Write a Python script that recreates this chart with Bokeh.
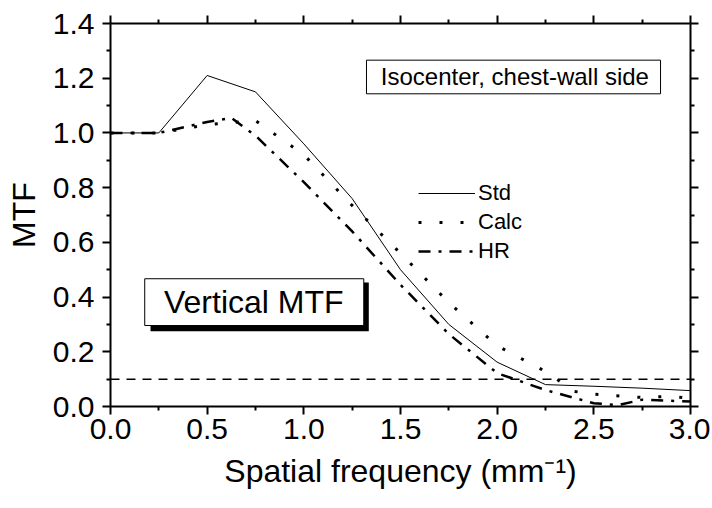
from bokeh.plotting import figure
from bokeh.models import (LinearAxis, Range1d, FixedTicker, PrintfTickFormatter,
                          Span, Label, BoxAnnotation, Legend, LegendItem)
from bokeh.embed import file_html
from bokeh.resources import INLINE

# ---- data ----
freq_std = [0.0, 0.25, 0.5, 0.75, 1.0, 1.25, 1.5, 1.75, 2.0, 2.25, 2.5, 2.75, 3.0]
mtf_std = [1.0, 1.0, 1.21, 1.15, 0.96, 0.76, 0.50, 0.30, 0.162, 0.08, 0.074, 0.067, 0.058]

freq_calc = [0.0, 0.25, 0.5, 0.75, 1.0, 1.25, 1.5, 1.75, 2.0, 2.25, 2.4, 2.5, 2.75, 2.9, 3.0]
mtf_calc = [1.0, 1.0, 1.03, 1.045, 0.92, 0.735, 0.56, 0.38, 0.222, 0.128, 0.055, 0.045, 0.033, 0.037, 0.03]

freq_hr = [0.0, 0.25, 0.5, 0.625, 0.75, 1.0, 1.25, 1.5, 1.75, 2.0, 2.25, 2.5, 2.625, 2.75, 3.0]
mtf_hr = [1.0, 1.0, 1.04, 1.055, 0.99, 0.82, 0.64, 0.445, 0.265, 0.122, 0.06, 0.012, 0.005, 0.025, 0.018]

x_major = [0.0, 0.5, 1.0, 1.5, 2.0, 2.5, 3.0]
x_minor = [0.25, 0.75, 1.25, 1.75, 2.25, 2.75]
y_major = [0.0, 0.2, 0.4, 0.6, 0.8, 1.0, 1.2, 1.4]
y_minor = [0.1, 0.3, 0.5, 0.7, 0.9, 1.1, 1.3]

series_labels = ["Std", "Calc", "HR"]
threshold = 0.1
x_title = "Spatial frequency (mm\u207b\u00b9)"
y_title = "MTF"
note_text = "Isocenter, chest-wall side"
title_text = "Vertical MTF"

FONT = "Liberation Sans"

p = figure(width=710, height=506, x_range=Range1d(0, 3), y_range=Range1d(0, 1.4),
           output_backend="svg", toolbar_location=None,
           x_axis_location=None, y_axis_location=None,
           min_border_left=110, min_border_right=20, min_border_top=23, min_border_bottom=100)
p.grid.visible = False
p.outline_line_color = None
p.background_fill_color = "white"
p.border_fill_color = "white"


def style_axis(ax, show_labels):
    ax.axis_line_width = 2
    ax.axis_line_color = "black"
    ax.major_tick_line_width = 2
    ax.minor_tick_line_width = 2
    ax.major_tick_in = 0
    ax.major_tick_out = 8
    ax.minor_tick_in = 0
    ax.minor_tick_out = 4
    ax.major_label_text_font = FONT
    ax.axis_label_text_font = FONT
    ax.axis_label_text_font_style = "normal"
    ax.axis_label_text_color = "black"
    if show_labels:
        ax.major_label_text_color = "black"
        ax.major_label_text_font_size = "30px"
        ax.axis_label_text_font_size = "32px"
    else:
        ax.major_label_text_color = None
        ax.major_label_text_font_size = "1px"
        ax.major_label_standoff = 0


xb = LinearAxis(ticker=FixedTicker(ticks=x_major, minor_ticks=x_minor),
                formatter=PrintfTickFormatter(format="%.1f"), axis_label=x_title)
style_axis(xb, True)
xb.major_label_standoff = 4
xb.axis_label_standoff = 11
p.add_layout(xb, "below")

xt = LinearAxis(ticker=FixedTicker(ticks=x_major, minor_ticks=x_minor))
style_axis(xt, False)
p.add_layout(xt, "above")

yl = LinearAxis(ticker=FixedTicker(ticks=y_major, minor_ticks=y_minor),
                formatter=PrintfTickFormatter(format="%.1f"), axis_label=y_title)
style_axis(yl, True)
yl.major_label_standoff = 8
yl.axis_label_standoff = 8
p.add_layout(yl, "left")

yr = LinearAxis(ticker=FixedTicker(ticks=y_major, minor_ticks=y_minor))
style_axis(yr, False)
p.add_layout(yr, "right")

# threshold line
p.add_layout(Span(location=threshold, dimension="width", line_color="black",
                  line_width=1.5, line_dash="9 7"))

r_std = p.line(freq_std, mtf_std, line_color="black", line_width=1)
r_calc = p.line(freq_calc, mtf_calc, line_color="black", line_width=3, line_dash="3 18")
r_hr = p.line(freq_hr, mtf_hr, line_color="black", line_width=2.5, line_dash="12 8 3 8")

legend = Legend(items=[LegendItem(label=series_labels[0], renderers=[r_std]),
                       LegendItem(label=series_labels[1], renderers=[r_calc]),
                       LegendItem(label=series_labels[2], renderers=[r_hr])],
                location=(308, 142), border_line_color=None, background_fill_alpha=0,
                label_text_font=FONT, label_text_font_size="22px", label_text_color="black",
                glyph_width=57, glyph_height=24, label_height=24,
                spacing=3, padding=0, margin=0, label_standoff=3)
p.add_layout(legend)

# "Vertical MTF" box with drop shadow
p.add_layout(BoxAnnotation(left=0.207, right=1.336, bottom=0.275, top=0.453,
                           fill_color="black", fill_alpha=1, line_color=None))
p.add_layout(BoxAnnotation(left=0.177, right=1.310, bottom=0.296, top=0.467,
                           fill_color="white", fill_alpha=1, line_color="black",
                           line_alpha=1, line_width=1))
p.add_layout(Label(x=0.741, y=0.381, text=title_text, text_align="center",
                   text_baseline="middle", text_font=FONT, text_font_size="32px",
                   text_color="black"))

# note box
p.add_layout(BoxAnnotation(left=1.324, right=2.845, bottom=1.143, top=1.266,
                           fill_color="white", fill_alpha=1, line_color="black",
                           line_alpha=1, line_width=1))
p.add_layout(Label(x=2.785, y=1.206, text=note_text, text_align="right",
                   text_baseline="middle", text_font=FONT, text_font_size="24px",
                   text_color="black"))

open("out.html", "w").write(file_html(p, INLINE))
